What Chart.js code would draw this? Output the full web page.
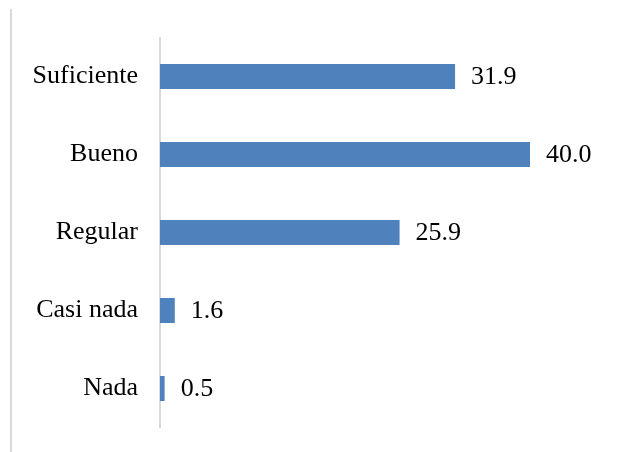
<!DOCTYPE html>
<html>
<head>
<meta charset="utf-8">
<script src="https://cdn.jsdelivr.net/npm/chart.js@4"></script>
<style>
    html, body { margin: 0; padding: 0; background: #ffffff; }
    #wrap { position: relative; width: 640px; height: 452px; }
    #frame-line { position: absolute; left: 10px; top: 9px; bottom: 0; width: 0; border-left: 2px solid #d9d9d9; }
</style>
</head>
<body>
<div id="wrap">
    <div id="frame-line"></div>
    <canvas id="bar-chart"></canvas>
</div>
<script>
const categories = ["Suficiente", "Bueno", "Regular", "Casi nada", "Nada"];
const percentValues = [31.9, 40.0, 25.9, 1.6, 0.5];

const serifFont = "'Liberation Serif', 'Times New Roman', serif";

// draws the value just past the end of each bar
const barValueLabels = {
    id: "barValueLabels",
    afterDatasetsDraw(chart) {
        const ctx = chart.ctx;
        const meta = chart.getDatasetMeta(0);
        ctx.save();
        ctx.font = "26px " + serifFont;
        ctx.fillStyle = "#000000";
        ctx.textAlign = "left";
        ctx.textBaseline = "middle";
        meta.data.forEach((bar, idx) => {
            ctx.fillText(percentValues[idx].toFixed(1), bar.x + 16, bar.y + 1);
        });
        ctx.restore();
    }
};

new Chart(document.getElementById("bar-chart"), {
    type: "bar",
    data: {
        labels: categories,
        datasets: [{
            data: percentValues,
            backgroundColor: "#4f81bd",
            borderWidth: 0,
            categoryPercentage: 1,
            barPercentage: 0.32
        }]
    },
    options: {
        indexAxis: "y",
        responsive: true,
        maintainAspectRatio: false,
        animation: false,
        layout: { padding: { top: 37.5, bottom: 24.5, left: 0, right: 20 } },
        plugins: {
            legend: { display: false },
            tooltip: { enabled: false }
        },
        scales: {
            x: {
                display: false,
                min: 0,
                max: 40 * 460 / 370
            },
            y: {
                afterFit: (axis) => {
                    axis.width = 160;
                    // keep the label half-heights from shrinking the plot area
                    axis.paddingTop = 0;
                    axis.paddingBottom = 0;
                },
                grid: { display: false, drawTicks: false },
                border: { display: true, color: "#d9d9d9", width: 2 },
                ticks: {
                    padding: 22,
                    color: "#000000",
                    font: { family: serifFont, size: 26 }
                }
            }
        }
    },
    plugins: [barValueLabels]
});
</script>
</body>
</html>
